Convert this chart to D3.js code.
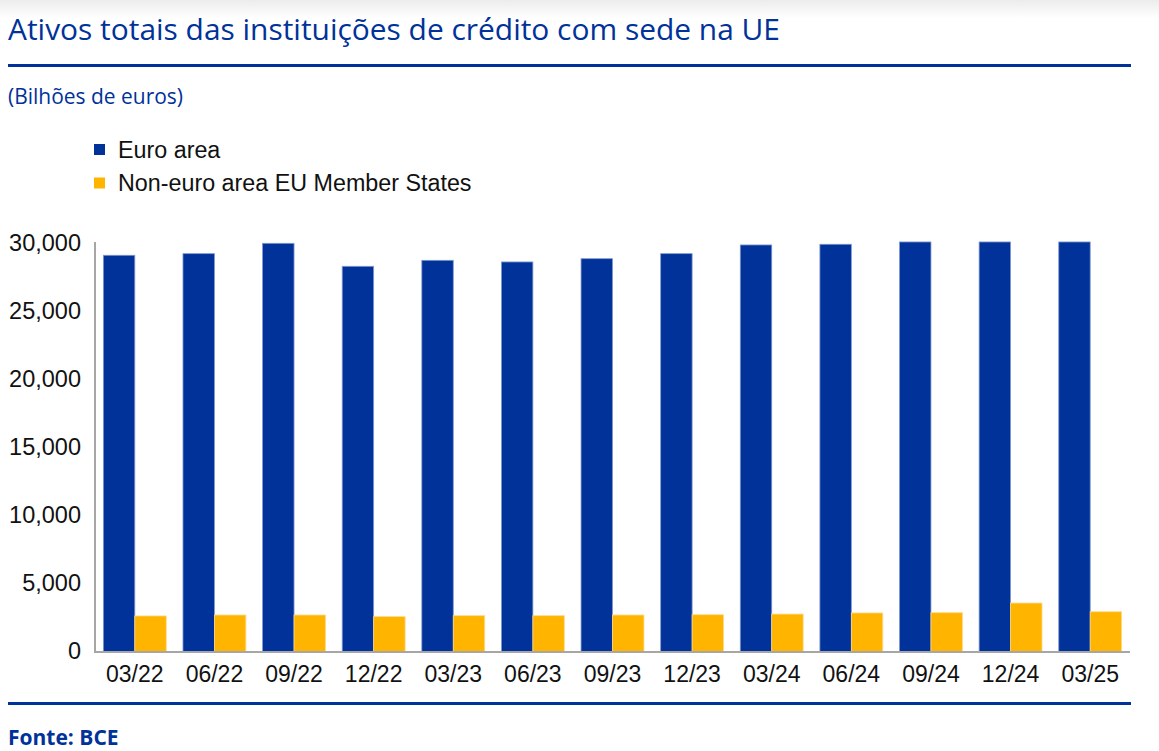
<!DOCTYPE html>
<html>
<head>
<meta charset="utf-8">
<script src="https://cdn.jsdelivr.net/npm/d3@7/dist/d3.min.js"></script>
<style>
  html, body { margin: 0; padding: 0; background: #fff; }
  svg { display: block; }
</style>
</head>
<body>
<svg id="chart" width="1159" height="751"></svg>
<script>
const title = "Ativos totais das instituições de crédito com sede na UE";
const subtitle = "(Bilhões de euros)";
const source = "Fonte: BCE";
const seriesNames = ["Euro area", "Non-euro area EU Member States"];
const categories = ["03/22","06/22","09/22","12/22","03/23","06/23","09/23","12/23","03/24","06/24","09/24","12/24","03/25"];
const euroArea = [29170, 29290, 30050, 28360, 28800, 28680, 28920, 29290, 29930, 29980, 30150, 30150, 30150];
const nonEuroArea = [2650, 2720, 2720, 2600, 2670, 2670, 2720, 2740, 2790, 2870, 2890, 3600, 2960];
const yTicks = [0, 5000, 10000, 15000, 20000, 25000, 30000];

const colors = ["#003299", "#FFB400"];
const strokes = ["#7f98cf", "#ffd98a"];

const svg = d3.select("#chart");
const W = 1159, H = 751;

// top shadow
const defs = svg.append("defs");
const grad = defs.append("linearGradient").attr("id", "shadow").attr("x1", 0).attr("y1", 0).attr("x2", 0).attr("y2", 1);
grad.append("stop").attr("offset", "0%").attr("stop-color", "#ececec");
grad.append("stop").attr("offset", "100%").attr("stop-color", "#ffffff");
svg.append("rect").attr("x", 0).attr("y", 0).attr("width", W).attr("height", 18).attr("fill", "url(#shadow)");

// Title
svg.append("text")
  .attr("x", 8).attr("y", 40)
  .attr("font-family", "'Open Sans', sans-serif")
  .attr("font-size", 30)
  .attr("fill", "#003299")
  .attr("textLength", 772)
  .attr("lengthAdjust", "spacingAndGlyphs")
  .text(title);

svg.append("rect").attr("x", 8).attr("y", 64).attr("width", 1123).attr("height", 3).attr("fill", "#003299");

svg.append("text")
  .attr("x", 8).attr("y", 104)
  .attr("font-family", "'Open Sans', sans-serif")
  .attr("font-size", 21)
  .attr("fill", "#003299")
  .attr("textLength", 175)
  .attr("lengthAdjust", "spacingAndGlyphs")
  .text(subtitle);

// Legend
const legend = svg.append("g");
seriesNames.forEach((name, i) => {
  const yy = 144 + i * 33.5;
  legend.append("rect").attr("x", 94).attr("y", yy).attr("width", 11).attr("height", 11).attr("fill", colors[i]);
  legend.append("text")
    .attr("x", 118).attr("y", yy + 13.5)
    .attr("font-family", "'Liberation Sans', Arial, sans-serif")
    .attr("font-size", 23.3)
    .attr("fill", "#111")
    .text(name);
});

// Scales
const x0 = 95, x1 = 1130, yBase = 652, yTop = 242;
const x = d3.scaleBand().domain(categories).range([x0, x1]).paddingInner(0.21).paddingOuter(0.105);
const xs = d3.scaleBand().domain([0, 1]).range([0, x.bandwidth()]);
const y = d3.scaleLinear().domain([0, 30000]).range([yBase, 244]);

// Bars
const series = [euroArea, nonEuroArea];
series.forEach((vals, si) => {
  svg.append("g").selectAll("rect")
    .data(vals)
    .join("rect")
    .attr("x", (d, i) => x(categories[i]) + xs(si))
    .attr("y", d => y(d))
    .attr("width", xs.bandwidth())
    .attr("height", d => yBase - y(d))
    .attr("fill", colors[si])
    .attr("stroke", strokes[si])
    .attr("stroke-width", 0.8);
});

// Axes
const yAxis = d3.axisLeft(y).tickValues(yTicks).tickFormat(d3.format(",")).tickSize(0).tickPadding(14);
const gy = svg.append("g").attr("transform", `translate(${x0},-1)`).call(yAxis);
gy.select(".domain").remove();
gy.selectAll("text")
  .attr("font-family", "'Liberation Sans', Arial, sans-serif")
  .attr("font-size", 23.5)
  .attr("fill", "#111");

const xAxis = d3.axisBottom(x).tickSize(0).tickPadding(14);
const gx = svg.append("g").attr("transform", `translate(0,${yBase})`).call(xAxis);
gx.select(".domain").remove();
gx.selectAll("text")
  .attr("font-family", "'Liberation Sans', Arial, sans-serif")
  .attr("font-size", 23)
  .attr("fill", "#111");

svg.append("line").attr("x1", x0).attr("x2", x0).attr("y1", yTop).attr("y2", yBase + 1)
  .attr("stroke", "#a6a6a6").attr("stroke-width", 2);
svg.append("line").attr("x1", x0 - 1).attr("x2", x1).attr("y1", yBase).attr("y2", yBase)
  .attr("stroke", "#a6a6a6").attr("stroke-width", 2);

// Bottom rule + source
svg.append("rect").attr("x", 8).attr("y", 702).attr("width", 1123).attr("height", 3).attr("fill", "#003299");
svg.append("text")
  .attr("x", 8).attr("y", 745)
  .attr("font-family", "'Open Sans', sans-serif")
  .attr("font-weight", "bold")
  .attr("font-size", 21)
  .attr("fill", "#003299")
  .text(source);
</script>
</body>
</html>
